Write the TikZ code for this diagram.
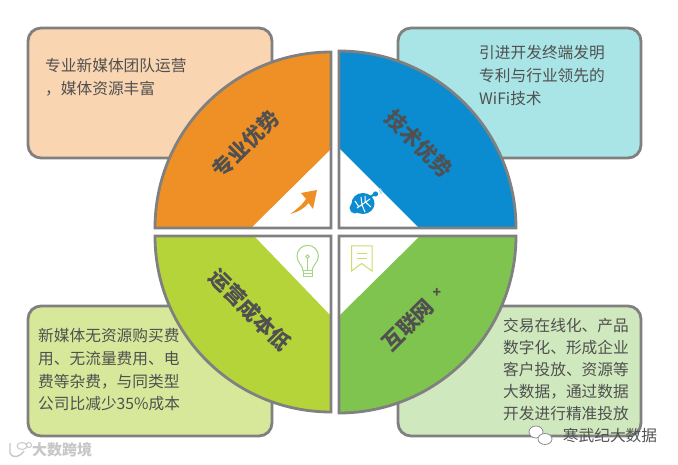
\documentclass[tikz,border=0pt]{standalone}
\usepackage{fontspec}
\setmainfont{Noto Sans CJK SC}
\definecolor{bordergray}{HTML}{808080}
\definecolor{boxorange}{HTML}{F9D5B1}
\definecolor{boxcyan}{HTML}{A9E4E6}
\definecolor{boxlime}{HTML}{D8E89A}
\definecolor{boxgreen}{HTML}{CFE8BD}
\definecolor{pieorange}{HTML}{EE9026}
\definecolor{pieblue}{HTML}{0C8CD0}
\definecolor{pielime}{HTML}{B5D43A}
\definecolor{piegreen}{HTML}{7FC44E}
\definecolor{bodytext}{HTML}{505050}
\definecolor{bigtext}{HTML}{505050}
\tikzset{
  x=1pt,y=-1pt,
  infobox/.style={draw=bordergray,line width=2.8pt,rounded corners=13pt},
  pieline/.style={draw=bordergray,line width=2.8pt,line join=miter},
  bodylabel/.style={anchor=north west,inner sep=0pt,align=left,text=bodytext,font=\fontsize{15.7}{22.8}\selectfont},
  biglabel/.style={inner sep=0pt,text=bigtext,font=\fontsize{21}{24}\selectfont\bfseries},
  iconline/.style={line width=1pt,fill=none},
}
\begin{document}
\begin{tikzpicture}
\useasboundingbox (0,0) rectangle (678,465);
\fill[white] (0,0) rectangle (678,465);
% text boxes
\draw[infobox,fill=boxorange] (28,28) rectangle (272,158);
\draw[infobox,fill=boxcyan] (398,28) rectangle (641,158);
\draw[infobox,fill=boxlime] (28,306) rectangle (272,436);
\draw[infobox,fill=boxgreen] (398,306) rectangle (641,436);
% quadrants
\fill[white] (331,228) -- (155,228) arc[start angle=180,end angle=270,radius=176] -- cycle;
\fill[pieorange] (331,149) -- (331,52) arc[start angle=270,end angle=180,radius=176] -- (251,228) -- cycle;
\draw[pieline] (331,228) -- (155,228) arc[start angle=180,end angle=270,radius=176] -- cycle;

\fill[white] (339,228) -- (516,228) arc[start angle=0,end angle=-90,radius=177] -- cycle;
\fill[pieblue] (339,148) -- (339,51) arc[start angle=-90,end angle=0,radius=177] -- (419,228) -- cycle;
\draw[pieline] (339,228) -- (516,228) arc[start angle=0,end angle=-90,radius=177] -- cycle;

\fill[white] (331,236) -- (155,236) arc[start angle=180,end angle=90,radius=176] -- cycle;
\fill[pielime] (254,236) -- (155,236) arc[start angle=180,end angle=90,radius=176] -- (331,316) -- cycle;
\draw[pieline] (331,236) -- (155,236) arc[start angle=180,end angle=90,radius=176] -- cycle;

\fill[white] (339,236) -- (516,236) arc[start angle=0,end angle=90,radius=177] -- cycle;
\fill[piegreen] (420,236) -- (516,236) arc[start angle=0,end angle=90,radius=177] -- (339,316) -- cycle;
\draw[pieline] (339,236) -- (516,236) arc[start angle=0,end angle=90,radius=177] -- cycle;
% big labels
\node[biglabel,rotate=45] (adv1) at (246,144) {专业优势};
\node[biglabel,rotate=-45] (adv2) at (419,144) {技术优势};
\node[biglabel,rotate=-45] (adv3) at (250,310) {运营成本低};
\node[biglabel,rotate=45] (adv4) at (408,325) {互联网};
\node[inner sep=0pt,text=bigtext,font=\fontsize{14}{14}\selectfont\bfseries] (adv4plus) at (437,293) {+};
% body text
\node[bodylabel] (t1) at (45,58) {专业新媒体团队运营\\，媒体资源丰富};
\node[bodylabel] (t2) at (479,45) {引进开发终端发明\\专利与行业领先的\\WiFi技术};
\node[bodylabel] (t3) at (38,328) {新媒体无资源购买费\\用、无流量费用、电\\费等杂费，与同类型\\公司比减少35\%成本};
\node[bodylabel,font=\fontsize{15.7}{22}\selectfont] (t4) at (503,318) {交易在线化、产品\\数字化、形成企业\\客户投放、资源等\\大数据，通过数据\\开发进行精准投放};
% arrow icon
\fill[pieorange] (290.5,214) .. controls (298,208) and (303,204) .. (306,199) -- (301,193) -- (317,190) -- (313,209) -- (308.5,203) .. controls (305,208) and (298,212) .. (290.5,214) -- cycle;
% bug icon
\fill[pieblue] (355,208) circle[radius=5.5];
\fill[pieblue] (363,203.5) ellipse[x radius=11.5,y radius=10.5];
\draw[pieblue,line width=2pt] (370,197) -- (375,194);
\fill[pieblue] (375.5,194) circle[radius=2.6];
\draw[white,line width=1pt] (357,208) -- (370,199) (362,205) -- (361,197) (365,203) -- (365,196) (362,205) -- (365,212) (366,202.5) -- (371,207) (359,207) -- (355,201);
\draw[pieblue!45,line width=.6pt] (379,190) arc[start angle=-60,end angle=30,radius=3] (380,188) arc[start angle=-60,end angle=30,radius=4.5];
% bulb icon
\draw[iconline,draw=piegreen!70!white] (303,271) -- (303,277) -- (312,277) -- (312,271) -- cycle (303,274) -- (312,274);
\draw[iconline,draw=piegreen!70!white] (303,271) .. controls (303,265) and (297,263) .. (297,256) arc[start angle=180,end angle=360,radius=10.7] .. controls (318.4,263) and (312,265) .. (312,271);
\draw[iconline,draw=piegreen!70!white,line width=.8pt] (307.5,271) -- (307.5,258);
\draw[iconline,draw=piegreen!70!white,line width=.8pt] (307.5,256.5) circle[radius=1.7];
% bookmark icon
\draw[iconline,draw=pielime!75!white] (351.5,246) -- (372,246) -- (372,271) -- (361.7,263.5) -- (351.5,271) -- cycle;
\draw[iconline,draw=pielime!75!white,line width=.8pt] (357,253) -- (367,253) (357,258) -- (367,258);
% watermarks
\node[inner sep=0pt,text=black!22,font=\fontsize{15}{16}\selectfont\bfseries] (wm1) at (62,450) {大数跨境};
\draw[black!22,line width=1.4pt] (10,443) -- (10,453) .. controls (13,459) and (20,457) .. (24,451);
\draw[black!22,line width=1pt] (22,446) ellipse[x radius=5,y radius=3.5] (29,445) circle[radius=2.5];
\node[inner sep=0pt,text=black!68,font=\fontsize{15.7}{16}\selectfont] (wm2) at (610,436) {寒武纪大数据};
\draw[black!45,fill=white,line width=.8pt] (536,432) ellipse[x radius=7,y radius=6];
\draw[black!45,fill=white,line width=.8pt] (545,439) ellipse[x radius=7,y radius=5.5];
\end{tikzpicture}
\end{document}
